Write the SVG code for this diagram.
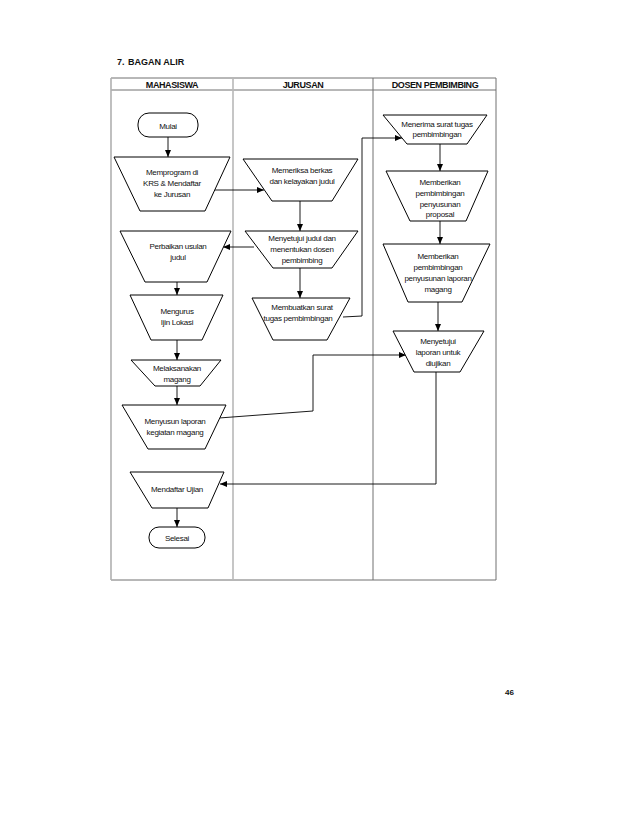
<svg xmlns="http://www.w3.org/2000/svg" width="638" height="826" viewBox="0 0 638 826">
<style>
.t{font-family:"Liberation Sans",Arial,sans-serif;font-size:8px;letter-spacing:-0.3px;fill:#111;text-anchor:middle}
.h{font-family:"Liberation Sans",Arial,sans-serif;font-size:9px;font-weight:bold;letter-spacing:-0.4px;fill:#111;text-anchor:middle}
.shape{fill:#fff;stroke:#000;stroke-width:1}
.c{fill:none;stroke:#000;stroke-width:0.9}
.ca{fill:none;stroke:#000;stroke-width:0.9;marker-end:url(#ah)}
</style>
<defs>
<marker id="ah" markerWidth="8" markerHeight="8" refX="7" refY="4" orient="auto" markerUnits="userSpaceOnUse">
<path d="M0,1 L7,4 L0,7 Z" fill="#000"/>
</marker>
</defs>
<rect width="638" height="826" fill="#fff"/>
<text x="117" y="65" style="font-family:'Liberation Sans',Arial,sans-serif;font-size:9px;font-weight:bold;fill:#111">7.<tspan x="128">BAGAN ALIR</tspan></text>
<g id="table">
<line x1="111" y1="78" x2="496" y2="78" stroke="#707070" stroke-width="1"/>
<line x1="111" y1="90" x2="496" y2="90" stroke="#707070" stroke-width="1"/>
<line x1="111" y1="580" x2="496" y2="580" stroke="#707070" stroke-width="1"/>
<line x1="496" y1="78" x2="496" y2="580" stroke="#707070" stroke-width="1"/>
<line x1="373" y1="78" x2="373" y2="580" stroke="#707070" stroke-width="1"/>
<line x1="111" y1="78" x2="111" y2="580" stroke="#b0b0b0" stroke-width="1.6"/>
<line x1="233" y1="78" x2="233" y2="580" stroke="#b8b8b8" stroke-width="1.6"/>
<text class="h" x="172" y="87.5">MAHASISWA</text>
<text class="h" x="303" y="87.5">JURUSAN</text>
<text class="h" x="435" y="87.5">DOSEN PEMBIMBING</text>
</g>
<g id="connectors">
<line class="ca" x1="168" y1="137" x2="168" y2="157"/>
<line class="ca" x1="214" y1="190" x2="264" y2="190"/>
<line class="ca" x1="300" y1="201" x2="300" y2="231"/>
<line class="ca" x1="254" y1="247" x2="223" y2="247"/>
<line class="ca" x1="300" y1="268" x2="300" y2="298"/>
<polyline class="ca" points="343,317 362,316 362,138 402,138"/>
<line class="ca" x1="440" y1="144" x2="440" y2="171"/>
<line class="ca" x1="440" y1="221" x2="440" y2="244"/>
<line class="ca" x1="438" y1="302" x2="438" y2="331"/>
<line class="ca" x1="177" y1="282" x2="177" y2="295"/>
<line class="ca" x1="177" y1="340" x2="177" y2="360"/>
<line class="ca" x1="177" y1="386" x2="177" y2="405"/>
<polyline class="ca" points="219,418 313,411 313,355 406,355"/>
<polyline class="ca" points="436,372 436,484 220,484"/>
<line class="ca" x1="177" y1="508" x2="177" y2="527"/>
</g>
<g id="mulai">
<rect class="shape" x="138" y="113" width="60" height="24" rx="11"/>
<text class="t" x="168" y="128.5">Mulai</text>
</g>
<g id="memprogram">
<polygon class="shape" points="114,157 230,157 205,211 140,211"/>
<text class="t" x="172" y="175">Memprogram di</text>
<text class="t" x="172" y="186">KRS &amp;  Mendaftar</text>
<text class="t" x="172" y="197">ke Jurusan</text>
</g>
<g id="memeriksa">
<polygon class="shape" points="243,159 358,159 332,201 272,201"/>
<text class="t" x="302" y="173">Memeriksa berkas</text>
<text class="t" x="302" y="184">dan kelayakan judul</text>
</g>
<g id="menyetujui-judul">
<polygon class="shape" points="245,231 358,231 332,268 273,268"/>
<text class="t" x="302" y="241">Menyetujui judul dan</text>
<text class="t" x="302" y="252">menentukan dosen</text>
<text class="t" x="302" y="263">pembimbing</text>
</g>
<g id="membuatkan">
<polygon class="shape" points="252,298 350,298 327,340 273,340"/>
<text class="t" x="302" y="310">Membuatkan surat</text>
<text class="t" x="298" y="321">tugas pembimbingan</text>
</g>
<g id="menerima">
<polygon class="shape" points="383,115 487,115 467,144 407,144"/>
<text class="t" x="437" y="127">Menerima surat tugas</text>
<text class="t" x="437" y="137">pembimbingan</text>
</g>
<g id="memberikan-proposal">
<polygon class="shape" points="386,171 488,171 466,221 410,221"/>
<text class="t" x="440" y="185">Memberikan</text>
<text class="t" x="440" y="196">pembimbingan</text>
<text class="t" x="440" y="207">penyusunan</text>
<text class="t" x="440" y="217">proposal</text>
</g>
<g id="memberikan-laporan">
<polygon class="shape" points="383,244 490,244 462,302 408,302"/>
<text class="t" x="438" y="259">Memberikan</text>
<text class="t" x="438" y="270">pembimbingan</text>
<text class="t" x="438" y="281">penyusunan laporan</text>
<text class="t" x="438" y="292">magang</text>
</g>
<g id="menyetujui-laporan">
<polygon class="shape" points="393,331 484,331 460,372 414,372"/>
<text class="t" x="438" y="344">Menyetujui</text>
<text class="t" x="438" y="355">laporan untuk</text>
<text class="t" x="438" y="366">diujikan</text>
</g>
<g id="perbaikan">
<polygon class="shape" points="120,231 231,231 207,282 145,282"/>
<text class="t" x="178" y="249">Perbaikan usulan</text>
<text class="t" x="178" y="260">judul</text>
</g>
<g id="mengurus">
<polygon class="shape" points="130,295 223,295 202,340 151,340"/>
<text class="t" x="177" y="314">Mengurus</text>
<text class="t" x="177" y="325">Ijin Lokasi</text>
</g>
<g id="melaksanakan">
<polygon class="shape" points="131,360 221,360 200,386 155,386"/>
<text class="t" x="177" y="371">Melaksanakan</text>
<text class="t" x="177" y="382">magang</text>
</g>
<g id="menyusun">
<polygon class="shape" points="122,405 226,405 205,449 148,449"/>
<text class="t" x="175" y="424">Menyusun laporan</text>
<text class="t" x="175" y="435">kegiatan magang</text>
</g>
<g id="mendaftar-ujian">
<polygon class="shape" points="130,472 224,472 208,508 152,508"/>
<text class="t" x="177" y="492">Mendaftar Ujian</text>
</g>
<g id="selesai">
<rect class="shape" x="149" y="527" width="56" height="21" rx="10"/>
<text class="t" x="177" y="540.5">Selesai</text>
</g>
<text x="505" y="695" style="font-family:'Liberation Sans',Arial,sans-serif;font-size:8px;font-weight:bold;fill:#111">46</text>
</svg>
